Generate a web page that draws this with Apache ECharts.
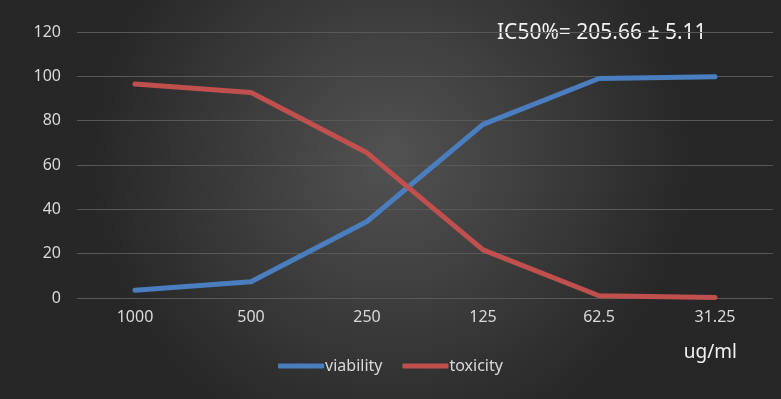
<!DOCTYPE html>
<html><head><meta charset="utf-8">
<script src="https://cdn.jsdelivr.net/npm/echarts@6/dist/echarts.min.js"></script>
<style>html,body{margin:0;padding:0;background:#333}#c{width:781px;height:399px}</style>
</head><body><div id="c"></div>
<script>
const categories = ['1000','500','250','125','62.5','31.25'];
const viability = [3.5, 7.3, 34.5, 78.3, 99.0, 99.8];
const toxicity = [96.5, 92.7, 65.5, 21.7, 1.0, 0.2];
const yTicks = [0, 20, 40, 60, 80, 100, 120];
const annotation = 'IC50%= 205.66 ± 5.11';
const unitLabel = 'ug/ml';

const font = 'Noto Sans, sans-serif';
const chart = echarts.init(document.getElementById('c'));
chart.setOption({
  backgroundColor: {
    type: 'radial', x: 0.5, y: 0.4, r: 0.75,
    colorStops: [{offset: 0, color: '#525252'}, {offset: 1, color: '#272727'}]
  },
  animation: false,
  grid: {left: 77, right: 8, top: 32, bottom: 101, containLabel: false},
  xAxis: {
    type: 'category', data: categories, boundaryGap: true,
    axisLine: {show: false}, axisTick: {show: false},
    axisLabel: {color: '#d9d9d9', fontSize: 16, fontFamily: font, margin: 11}
  },
  yAxis: {
    type: 'value', min: 0, max: 120, interval: 20,
    axisLine: {show: false}, axisTick: {show: false},
    axisLabel: {color: '#d9d9d9', fontSize: 16, fontFamily: font, margin: 16,
      formatter: v => yTicks.includes(v) ? String(v) : ''},
    splitLine: {lineStyle: {color: '#585858', width: 1}}
  },
  legend: {
    bottom: 20, left: 'center', itemWidth: 46, itemHeight: 5, itemGap: 20,
    icon: 'roundRect',
    textStyle: {color: '#d9d9d9', fontSize: 16, fontFamily: font, padding: [0,0,0,-4]},
    data: ['viability', 'toxicity']
  },
  graphic: [{
    type: 'text', left: 497, top: 23,
    style: {text: annotation, fill: '#f2f2f2', fontSize: 21, fontFamily: font}
  }, {
    type: 'text', right: 44, top: 343,
    style: {text: unitLabel, fill: '#f2f2f2', fontSize: 19, fontFamily: font}
  }],
  series: [
    {name: 'viability', type: 'line', data: viability, symbol: 'none',
     lineStyle: {width: 5, color: '#4a7ebf', cap: 'round', join: 'round'}, itemStyle: {color: '#4a7ebf'}},
    {name: 'toxicity', type: 'line', data: toxicity, symbol: 'none',
     lineStyle: {width: 5, color: '#c0504d', cap: 'round', join: 'round'}, itemStyle: {color: '#c0504d'}}
  ]
});
</script></body></html>
